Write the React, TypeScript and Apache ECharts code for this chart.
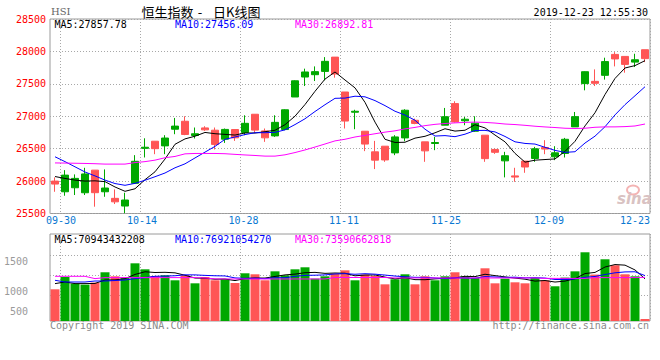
import React, { useEffect, useRef } from 'react';
import * as echarts from 'echarts';

// ---------- data ----------
const dates = [
  '09-27', '09-30', '10-02', '10-03', '10-04', '10-08', '10-09', '10-10', '10-11', '10-14',
  '10-15', '10-16', '10-17', '10-18', '10-21', '10-22', '10-23', '10-24', '10-25', '10-28',
  '10-29', '10-30', '10-31', '11-01', '11-04', '11-05', '11-06', '11-07', '11-08', '11-11',
  '11-12', '11-13', '11-14', '11-15', '11-18', '11-19', '11-20', '11-21', '11-22', '11-25',
  '11-26', '11-27', '11-28', '11-29', '12-02', '12-03', '12-04', '12-05', '12-06', '12-09',
  '12-10', '12-11', '12-12', '12-13', '12-16', '12-17', '12-18', '12-19', '12-20', '12-23',
];

const opens = [
  26000, 25835, 25897, 25820, 26169, 25835, 25734, 25615, 25965, 26505,
  26615, 26543, 26800, 26923, 26703, 26820, 26785, 26646, 26795, 26749,
  27031, 26774, 26697, 26795, 27297, 27605, 27641, 27692, 27912, 27374,
  27062, 26769, 26451, 26538, 26435, 26666, 26938, 26605, 26580, 26862,
  27195, 26930, 26769, 26708, 26488, 26312, 26080, 26308, 26349, 26518,
  26374, 26426, 26836, 27503, 27538, 27631, 27954, 27923, 27835, 28026,
];
const closes = [
  25954, 26092, 26042, 26110, 25821, 25893, 25680, 25708, 26305, 26522,
  26500, 26664, 26848, 26719, 26730, 26790, 26566, 26797, 26667, 26891,
  26786, 26667, 26906, 27100, 27547, 27683, 27688, 27847, 27651, 26926,
  27077, 26571, 26323, 26326, 26681, 27093, 26889, 26466, 26595, 26993,
  26913, 26954, 26893, 26346, 26444, 26391, 26062, 26217, 26498, 26494,
  26436, 26645, 26994, 27687, 27508, 27843, 27884, 27800, 27871, 27889,
];
const lows = [
  25835, 25774, 25785, 25785, 25605, 25758, 25646, 25505, 25960, 26364,
  26415, 26415, 26723, 26708, 26657, 26774, 26488, 26589, 26620, 26708,
  26743, 26605, 26682, 26785, 27297, 27466, 27543, 27554, 27595, 26811,
  26800, 26462, 26185, 26297, 26400, 26615, 26877, 26297, 26477, 26862,
  26903, 26862, 26759, 26297, 26420, 26057, 25989, 26128, 26297, 26415,
  26323, 26364, 26836, 27400, 27466, 27565, 27769, 27672, 27759, 27835,
];
const highs = [
  26057, 26169, 26103, 26205, 26169, 26180, 25872, 25820, 26400, 26660,
  26615, 26708, 26974, 27000, 26826, 26846, 26826, 26811, 26795, 27015,
  27031, 26811, 27015, 27108, 27554, 27734, 27769, 27912, 27912, 27374,
  27100, 26769, 26620, 26538, 26708, 27108, 26964, 26605, 26682, 27128,
  27231, 26989, 27000, 26708, 26500, 26451, 26205, 26308, 26528, 26631,
  26538, 26666, 27066, 27692, 27723, 27903, 27989, 27923, 27964, 28026,
];

// first values of the averages (their earlier closes are off the chart)
const ma5Head = [26070, 26041, 26015, 26000];
const ma10Head = [26375, 26300, 26220, 26140, 26080, 26015, 25962, 25935, 25965];
const ma30 = [
  26280, 26278, 26275, 26272, 26268, 26262, 26262, 26262, 26285, 26300,
  26323, 26360, 26380, 26420, 26426, 26426, 26426, 26422, 26412, 26403,
  26395, 26385, 26385, 26405, 26440, 26480, 26525, 26572, 26620, 26645,
  26680, 26705, 26730, 26755, 26775, 26805, 26828, 26855, 26875, 26888,
  26898, 26905, 26910, 26905, 26895, 26880, 26872, 26860, 26846, 26835,
  26826, 26815, 26811, 26815, 26830, 26836, 26836, 26840, 26850, 26880,
];

// turnover, 亿
const volumes = [
  534, 741, 630, 613, 647, 821, 753, 731, 972, 871,
  758, 770, 686, 770, 635, 741, 686, 703, 640, 804,
  787, 686, 837, 770, 871, 905, 714, 753, 799, 854,
  686, 782, 758, 618, 703, 787, 618, 753, 686, 753,
  821, 753, 725, 888, 635, 714, 652, 635, 725, 686,
  585, 731, 837, 1158, 782, 1040, 939, 787, 753, 34,
];
const volMa5Head = [630, 657, 630, 630];
const volMa10Head = [686, 657, 657, 657, 674, 674, 682, 691, 714];
const volMa30 = [
  753, 753, 753, 753, 714, 731, 731, 731, 731, 731,
  731, 731, 731, 731, 731, 725, 710, 708, 708, 708,
  708, 708, 708, 708, 708, 708, 708, 708, 733, 733,
  733, 733, 733, 733, 725, 725, 725, 725, 725, 725,
  725, 725, 725, 725, 725, 725, 725, 725, 725, 718,
  718, 718, 718, 718, 731, 731, 731, 731, 731, 736,
];

const axisDates = ['09-30', '10-14', '10-28', '11-11', '11-25', '12-09', '12-23'];
const priceMin = 25500;
const priceMax = 28500;
const priceStep = 500;
const volLabels = ['500', '1000', '1500'];

const headerTexts = {
  code: 'HSI',
  title1: '恒生指数',
  title2: '日K线图',
  time: '2019-12-23 12:55:30',
  ma5: 'MA5:27857.78',
  ma10: 'MA10:27456.09',
  ma30: 'MA30:26892.81',
  vma5: 'MA5:70943432208',
  vma10: 'MA10:76921054270',
  vma30: 'MA30:73590662818',
  copyright: 'Copyright 2019 SINA.COM',
  url: 'http://finance.sina.com.cn',
};

// ---------- layout / style ----------
const RED = '#ff5555';
const GREEN = '#00a800';
const MONO = '"DejaVu Sans Mono", monospace';
const CJK = '"Noto Sans CJK SC", sans-serif';
const GRID_COLOR = '#a8a8a8';
const BORDER = '#9a9a9a';
// horizontal shift (px) of each date label, and which side of its slot the gridline sits
const labelShift: Record<string, number> = {
  '09-30': -4, '10-14': -3, '10-28': -1.5, '11-11': -1, '11-25': 1, '12-09': 4, '12-23': -10,
};
const gridAfter: Record<string, boolean> = {
  '09-30': false, '10-14': false, '10-28': false, '11-11': false, '11-25': true, '12-09': true, '12-23': true,
};
const VOL_PER_PX = 16.85;
const VOL_H = 87;

const movingAvg = (src: number[], n: number, head: number[]) =>
  src.map((_, i) =>
    i < n - 1 ? head[i] : +(src.slice(i - n + 1, i + 1).reduce((a, b) => a + b, 0) / n).toFixed(2)
  );

export default function App() {
  const ref = useRef<HTMLDivElement>(null);

  useEffect(() => {
    if (!ref.current) return;
    const chart = echarts.init(ref.current, undefined, { renderer: 'svg' });

    const ma5 = movingAvg(closes, 5, ma5Head);
    const ma10 = movingAvg(closes, 10, ma10Head);
    const vma5 = movingAvg(volumes, 5, volMa5Head);
    const vma10 = movingAvg(volumes, 10, volMa10Head);

    const labelIdx = axisDates.map((d) => dates.indexOf(d));
    const gridIdx = axisDates.map((d) => dates.indexOf(d) + (gridAfter[d] ? 1 : 0));

    const rich: Record<string, any> = {};
    axisDates.forEach((d, k) => {
      const s = labelShift[d] || 0;
      rich['d' + k] = {
        color: '#0a78d2',
        fontFamily: MONO,
        fontSize: 10,
        padding: s < 0 ? [0, -2 * s, 0, 0] : [0, 0, 0, 2 * s],
      };
    });

    const splitLine = {
      show: true,
      interval: (i: number) => gridIdx.includes(i),
      lineStyle: { color: GRID_COLOR, type: [1, 2], width: 1 },
    };

    const volMax = VOL_H * VOL_PER_PX;
    const volTick = 10 * VOL_PER_PX;
    const volGrid = [26, 46, 66].map((px) => Math.round(px * VOL_PER_PX));

    const txt = (
      text: string, x: number, y: number, fill: string, font: string,
      align = 'left', lineHeight = 11
    ) => ({
      type: 'text',
      x,
      y,
      silent: true,
      style: { text, fill, font, align, verticalAlign: 'middle', lineHeight },
    });

    const option: any = {
      animation: false,
      backgroundColor: '#ffffff',
      grid: [
        { left: 50, right: 10, top: 19, height: 194.5, show: true, borderColor: BORDER, borderWidth: 1, backgroundColor: 'transparent', outerBoundsMode: 'none' },
        { left: 50, right: 10, top: 234, height: VOL_H, show: true, borderColor: BORDER, borderWidth: 1, backgroundColor: 'transparent', outerBoundsMode: 'none' },
      ],
      xAxis: [
        {
          type: 'category',
          gridIndex: 0,
          data: dates,
          boundaryGap: true,
          axisLine: { show: false },
          axisTick: { show: false },
          axisLabel: {
            interval: (i: number) => labelIdx.includes(i),
            margin: 2,
            color: '#0a78d2',
            fontFamily: MONO,
            fontSize: 10,
            formatter: (v: string) => {
              const k = axisDates.indexOf(v);
              return k >= 0 ? `{d${k}|${v}}` : '';
            },
            rich,
          },
          splitLine,
        },
        {
          type: 'category',
          gridIndex: 1,
          data: dates,
          boundaryGap: true,
          axisLine: { show: false },
          axisTick: { show: false },
          axisLabel: { show: false },
          splitLine,
        },
      ],
      yAxis: [
        {
          type: 'value',
          gridIndex: 0,
          min: priceMin,
          max: priceMax,
          interval: priceStep,
          axisLine: { show: false },
          axisTick: { show: false },
          axisLabel: {
            color: '#ff0000',
            fontFamily: MONO,
            fontSize: 10,
            margin: 4,
            padding: [0, 0, 5, 0],
            formatter: (v: number) => String(v),
          },
          splitLine: { show: true, lineStyle: { color: GRID_COLOR, type: [1, 2], width: 1 } },
        },
        {
          type: 'value',
          gridIndex: 1,
          min: 0,
          max: volMax,
          interval: volTick,
          axisLine: { show: false },
          axisTick: { show: false },
          splitLine: { show: false },
          axisLabel: {
            color: '#9a9a9a',
            fontFamily: MONO,
            fontSize: 10,
            margin: 22,
            showMaxLabel: false,
            formatter: (_v: number, i: number) =>
              i === 1 ? volLabels[0] : i === 3 ? volLabels[1] : i === 6 ? volLabels[2] : '',
          },
        },
      ],
      series: [
        {
          type: 'candlestick',
          xAxisIndex: 0,
          yAxisIndex: 0,
          barWidth: 8,
          data: opens.map((o, i) => [o, closes[i], lows[i], highs[i]]),
          itemStyle: {
            color: GREEN,
            color0: RED,
            borderColor: GREEN,
            borderColor0: RED,
            borderWidth: 1,
          },
        },
        { type: 'line', xAxisIndex: 0, yAxisIndex: 0, data: ma5, showSymbol: false, symbol: 'none', lineStyle: { color: '#000000', width: 1 } },
        { type: 'line', xAxisIndex: 0, yAxisIndex: 0, data: ma10, showSymbol: false, symbol: 'none', lineStyle: { color: '#0000ff', width: 1 } },
        { type: 'line', xAxisIndex: 0, yAxisIndex: 0, data: ma30, showSymbol: false, symbol: 'none', lineStyle: { color: '#ff00ff', width: 1 } },
        {
          type: 'bar',
          xAxisIndex: 1,
          yAxisIndex: 1,
          barWidth: 9,
          data: volumes.map((v, i) => ({
            value: v,
            itemStyle: { color: closes[i] >= opens[i] ? GREEN : RED },
          })),
          markLine: {
            silent: true,
            z: 1,
            symbol: 'none',
            label: { show: false },
            lineStyle: { color: GRID_COLOR, type: [1, 2], width: 1 },
            data: volGrid.map((v) => ({ yAxis: v })),
          },
        },
        { type: 'line', xAxisIndex: 1, yAxisIndex: 1, data: vma5, showSymbol: false, symbol: 'none', z: 5, lineStyle: { color: '#000000', width: 1 } },
        { type: 'line', xAxisIndex: 1, yAxisIndex: 1, data: vma10, showSymbol: false, symbol: 'none', z: 5, lineStyle: { color: '#0000ff', width: 1 } },
        { type: 'line', xAxisIndex: 1, yAxisIndex: 1, data: volMa30, showSymbol: false, symbol: 'none', z: 5, lineStyle: { color: '#ff00ff', width: 1 } },
      ],
      graphic: [
        txt(headerTexts.code, 51, 11.5, '#666666', '10px "DejaVu Serif", serif'),
        txt(headerTexts.title1, 141.5, 11, '#000000', `13px ${CJK}`, 'left', 13),
        txt('-', 200, 11, '#000000', `13px ${CJK}`, 'center', 13),
        txt(headerTexts.title2, 213, 11, '#000000', `13px ${CJK}`, 'left', 13),
        txt(headerTexts.time, 648, 12, '#000000', `10px ${MONO}`, 'right'),
        txt(headerTexts.ma5, 54.5, 24.5, '#000000', `10px ${MONO}`),
        txt(headerTexts.ma10, 175, 24.5, '#0000ff', `10px ${MONO}`),
        txt(headerTexts.ma30, 295, 24.5, '#ff00ff', `10px ${MONO}`),
        txt(headerTexts.vma5, 54.5, 239.5, '#000000', `10px ${MONO}`),
        txt(headerTexts.vma10, 175, 239.5, '#0000ff', `10px ${MONO}`),
        txt(headerTexts.vma30, 295, 239.5, '#ff00ff', `10px ${MONO}`),
        txt(headerTexts.copyright, 50, 325, '#8a8a8a', `10px ${MONO}`),
        txt(headerTexts.url, 649, 325, '#8a8a8a', `10px ${MONO}`, 'right'),
        {
          type: 'ellipse',
          silent: true,
          shape: { cx: 633, cy: 190, rx: 6, ry: 4.5 },
          style: { fill: 'none', stroke: '#f4b4b4', lineWidth: 2 },
        },
        txt('sina', 617, 199, '#d9c2c2', 'italic bold 15px "DejaVu Sans", sans-serif', 'left', 16),
      ],
    };

    chart.setOption(option);
    return () => chart.dispose();
  }, []);

  return (
    <div
      ref={ref}
      style={{ position: 'fixed', left: 0, top: 0, width: 660, height: 360 }}
    />
  );
}
